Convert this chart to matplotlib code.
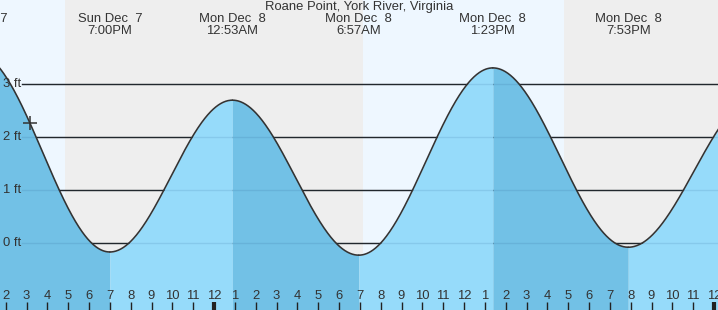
import numpy as np
import matplotlib
matplotlib.use("Agg")
import matplotlib.pyplot as plt

# ---- data (hours relative to midnight Mon Dec 8) ----
title = "Roane Point, York River, Virginia"
extreme_hours = [-11.45, -5.0, 0.883, 6.95, 13.383, 19.883, 26.2]
extreme_heights = [3.6, -0.17, 2.7, -0.23, 3.31, -0.08, 2.8]
extreme_day = ["Sun Dec  7", "Sun Dec  7", "Mon Dec  8", "Mon Dec  8",
               "Mon Dec  8", "Mon Dec  8", "Tue Dec  9"]
extreme_time = ["12:33PM", "7:00PM", "12:53AM", "6:57AM", "1:23PM", "7:53PM", "2:12AM"]
day_spans = [(-12.0, -7.15), (7.15, 16.8)]   # daylight periods
now_hour = -8.83
y_ticks = [0, 1, 2, 3]
y_tick_labels = ["0 ft", "1 ft", "2 ft", "3 ft"]
hour_ticks = list(range(-10, 25))
hour_labels = [str((h % 12) or 12) for h in hour_ticks]

W, H = 718, 310
PX_PER_HR = 500 / 24.0
X0 = 214.0
x_lo, x_hi = -X0 / PX_PER_HR, (W - X0) / PX_PER_HR
PX_PER_FT = 52.9
Y0 = 243.0
y_hi, y_lo = Y0 / PX_PER_FT, (Y0 - H) / PX_PER_FT

fig = plt.figure(figsize=(W / 100, H / 100), dpi=100)
ax = fig.add_axes([0, 0, 1, 1])
ax.set_xlim(x_lo, x_hi)
ax.set_ylim(y_lo, y_hi)
ax.axis("off")

night = "#eeeeee"
day = "#eef7ff"
ax.axvspan(x_lo, x_hi, color=night, zorder=0, lw=0)
for a, b in day_spans:
    ax.axvspan(a, b, color=day, zorder=0.5, lw=0)

# grid lines
gx0 = x_lo + 22 / PX_PER_HR
for yv in y_ticks:
    ax.plot([gx0, x_hi], [yv, yv], color="#222222", lw=1.0, zorder=1)

# tide curve (cosine shape between successive extremes)
dark = "#72c1e6"
light = "#96dbfa"
for i in range(len(extreme_hours) - 1):
    t0, t1 = extreme_hours[i], extreme_hours[i + 1]
    h0, h1 = extreme_heights[i], extreme_heights[i + 1]
    t = np.linspace(t0, t1, 200)
    f = (t - t0) / (t1 - t0)
    h = h0 + (h1 - h0) * (1 - np.cos(np.pi * f)) / 2
    col = dark if h1 < h0 else light
    ax.fill_between(t, h, y_lo, color=col, lw=0, zorder=2)
    ax.plot(t, h, color="#333333", lw=1.15, zorder=4, solid_capstyle="round")

# faint gridline over fill
for yv in y_ticks:
    ax.plot([gx0, x_hi], [yv, yv], color=(0.1, 0.3, 0.5, 0.12), lw=1.0, zorder=3)

# current time marker
for i in range(len(extreme_hours) - 1):
    t0, t1 = extreme_hours[i], extreme_hours[i + 1]
    if t0 <= now_hour <= t1:
        h0, h1 = extreme_heights[i], extreme_heights[i + 1]
        f = (now_hour - t0) / (t1 - t0)
        nh = h0 + (h1 - h0) * (1 - np.cos(np.pi * f)) / 2
        ax.plot([now_hour], [nh], marker="+", ms=10, mew=1.1, color="#333333", zorder=5)

fam = ["Liberation Sans", "DejaVu Sans"]
tc = "#333333"
fs = 9.4

def px2x(px):
    return x_lo + px / PX_PER_HR

def py2y(py):
    return (Y0 - py) / PX_PER_FT

# y labels
for yv, lab in zip(y_ticks, y_tick_labels):
    ax.text(px2x(3), yv, lab, ha="left", va="center", fontsize=fs, color=tc,
            family=fam, zorder=6)

# extreme labels (only those whose centre lies before the right edge)
for th, d, tm in zip(extreme_hours, extreme_day, extreme_time):
    if th > x_hi:
        continue
    ax.text(th, py2y(19.5), d, ha="center", va="center", fontsize=fs, color=tc, family=fam, zorder=6)
    ax.text(th, py2y(31.5), tm, ha="center", va="center", fontsize=fs, color=tc, family=fam, zorder=6)

ax.text(px2x(359), py2y(7.5), title, ha="center", va="center", fontsize=fs, color=tc,
        family=fam, zorder=6)

# hour ticks
for hv, lab in zip(hour_ticks, hour_labels):
    ax.text(hv, py2y(296), lab, ha="center", va="center", fontsize=fs, color=tc,
            family=fam, zorder=6)
    lw = 3 if hv % 24 == 0 else 1
    ax.plot([hv, hv], [py2y(302), y_lo], color="#222222", lw=lw, zorder=6,
            solid_capstyle="butt")

fig.savefig("out.png", dpi=100)
